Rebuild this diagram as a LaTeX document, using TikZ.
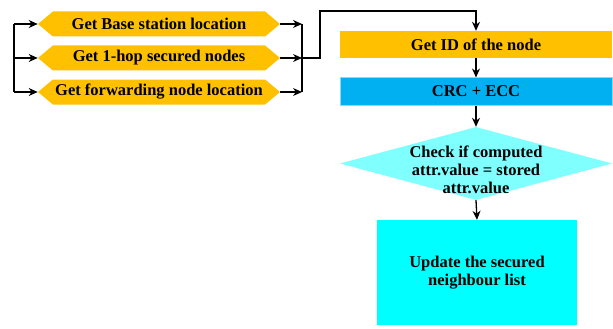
\documentclass[tikz,border=0pt]{standalone}
\usepackage{fontspec}
\setmainfont{Liberation Serif}
\usetikzlibrary{shapes.symbols,shapes.geometric,arrows.meta}
\definecolor{gold}{HTML}{FFC000}
\definecolor{crcblue}{HTML}{00B0F0}
\definecolor{crcedge}{HTML}{8CD9F7}
\definecolor{lcyan}{HTML}{80FFFF}
\definecolor{cyanbox}{HTML}{00FFFF}
\tikzset{
  txt/.style={font=\fontsize{16.5}{18}\selectfont\bfseries, text=black},
  hexbox/.style={shape=signal, signal to=west and east, signal pointer angle=80,
    fill=gold, draw=none, inner sep=0pt, minimum width=242pt, minimum height=25pt, txt},
  rectbox/.style={rectangle, draw=none, inner sep=0pt, minimum width=272pt, minimum height=27pt, txt},
  arr/.style={line width=1.3pt, -{Stealth[length=9pt,width=8pt]}},
  ln/.style={line width=1.3pt}
}
\begin{document}
\begin{tikzpicture}[x=1pt,y=-1pt]
\useasboundingbox (0,0) rectangle (613,329);
% hexagons
\node[hexbox] (h1) at (159,24) {Get Base station location};
\node[hexbox] (h2) at (159,58) {Get 1-hop secured nodes};
\node[hexbox] (h3) at (159,92) {Get forwarding node location};
% buses
\coordinate (lb1) at (14,24);
\coordinate (lb2) at (14,58);
\coordinate (lb3) at (14,92);
\coordinate (rb1) at (302,24);
\coordinate (rb2) at (302,58);
\coordinate (rb3) at (302,92);
\draw[ln] (lb1) -- (lb3);
\draw[ln] (rb1) -- (rb3);
\draw[arr] (lb1) -- (h1.west);
\draw[arr] (lb2) -- (h2.west);
\draw[arr] (lb3) -- (h3.west);
\draw[arr] (h1.east) -- (rb1);
\draw[arr] (h2.east) -- (rb2);
\draw[arr] (h3.east) -- (rb3);
% right column
\node[rectbox, fill=gold] (gid) at (476,44.5) {Get ID of the node};
\node[rectbox, fill=crcblue, draw=crcedge, line width=1pt] (crc) at (476,91.5) {CRC + ECC};
\node[diamond, fill=lcyan, draw=none, inner sep=0pt, minimum width=272pt, minimum height=73pt] (chk) at (476,163.5) {};
\node[txt, align=center, inner sep=0pt] (chkt) at (476,170) {Check if computed\\attr.value = stored\\attr.value};
\node[rectangle, fill=cyanbox, draw=none, minimum width=200pt, minimum height=105pt, inner sep=0pt, txt, align=center] (upd) at (477,272.5) {Update the secured\\neighbour list};
% connectors
\coordinate (k1) at (320,58);
\coordinate (k2) at (320,11);
\draw[arr] (rb2) -- (k1) -- (k2) -| (gid.north);
\draw[arr] (gid.south) -- (crc.north);
\draw[arr] (crc.south) -- (chk.north);
\draw[arr] (chk.south) -- (upd.north);
\end{tikzpicture}
\end{document}
